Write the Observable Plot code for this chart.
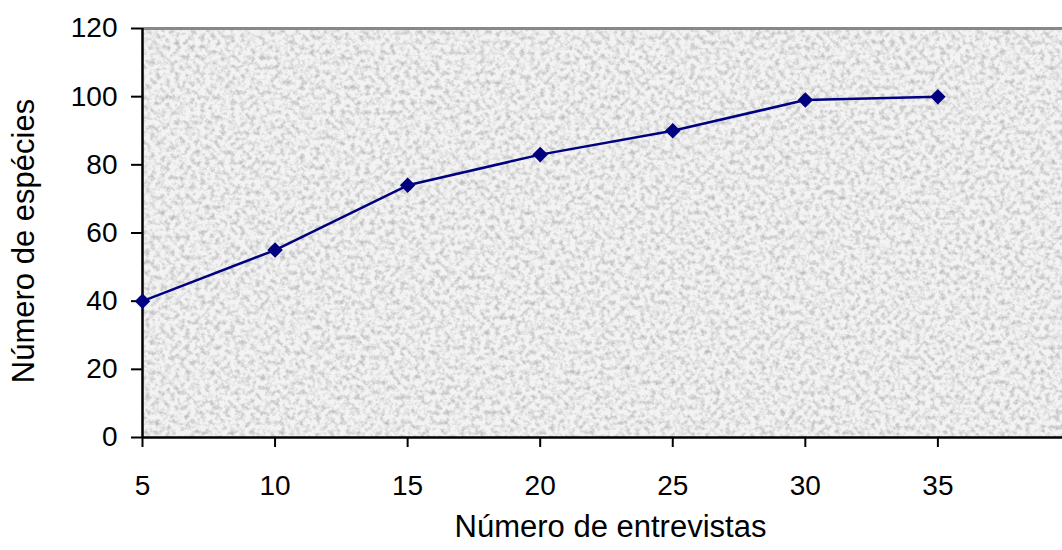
<!DOCTYPE html>
<html>
<head>
<meta charset="utf-8">
<script src="https://cdn.jsdelivr.net/npm/d3@7"></script>
<script src="https://cdn.jsdelivr.net/npm/@observablehq/plot@0.6"></script>
<style>
  html, body { margin: 0; padding: 0; background: #ffffff; }
  #chart svg { display: block; }
</style>
</head>
<body>
<div id="chart"></div>
<script>
// Data
const entrevistas = [5, 10, 15, 20, 25, 30, 35];
const especies = [40, 55, 74, 83, 90, 99, 100];
const yTicks = [0, 20, 40, 60, 80, 100, 120];
const xTicks = [5, 10, 15, 20, 25, 30, 35];
const xTitle = "Número de entrevistas";
const yTitle = "Número de espécies";

const rows = entrevistas.map((e, i) => ({entrevistas: e, especies: especies[i]}));

const svg = Plot.plot({
  width: 1062,
  height: 550,
  marginLeft: 142,
  marginRight: 0,
  marginTop: 28,
  marginBottom: 113,
  style: {fontFamily: "'Liberation Sans', Arial, sans-serif", fontSize: "28px", color: "#000", background: "#fff"},
  x: {domain: [5, 39.7]},
  y: {domain: [0, 120]},
  marks: [
    Plot.frame({fill: "#e2e2e2", stroke: null}),
    Plot.ruleY([120], {stroke: "#888888", strokeWidth: 3}),
    Plot.ruleX([5], {stroke: "#000", strokeWidth: 2.5}),
    Plot.ruleY([0], {stroke: "#000", strokeWidth: 2.5}),
    Plot.axisX(xTicks, {tickSize: 10, tickPadding: 28, strokeWidth: 2, tickFormat: d => String(d), label: null}),
    Plot.axisY(yTicks, {tickSize: 11, tickPadding: 14, strokeWidth: 2, tickFormat: d => String(d), label: null}),
    Plot.line(rows, {x: "entrevistas", y: "especies", stroke: "#000080", strokeWidth: 2.5}),
    Plot.dot(rows, {x: "entrevistas", y: "especies", symbol: "diamond2", r: 7, fill: "#000080", stroke: null}),
    Plot.text([xTitle], {text: d => d, frameAnchor: "bottom", dy: 99, dx: 8, fontSize: 31}),
    Plot.text([yTitle], {text: d => d, frameAnchor: "left", textAnchor: "middle", rotate: -90, dx: -118, dy: 8, fontSize: 31})
  ]
});

// Add paper-like grain texture over the plot background
const ns = "http://www.w3.org/2000/svg";
let frameRect = svg.querySelector('[aria-label="frame"]');
if (frameRect && frameRect.tagName.toLowerCase() !== "rect") frameRect = frameRect.querySelector("rect");
if (frameRect) {
  const defs = document.createElementNS(ns, "defs");
  defs.innerHTML = `
    <filter id="grain" x="0" y="0" width="100%" height="100%" color-interpolation-filters="sRGB">
      <feTurbulence type="fractalNoise" baseFrequency="0.2" numOctaves="3" seed="7" result="n"/>
      <feColorMatrix in="n" type="matrix" values="0.8 0 0 0 0.53  0.8 0 0 0 0.53  0.8 0 0 0 0.53  0 0 0 0 0.6"/>
    </filter>`;
  svg.insertBefore(defs, svg.firstChild);
  const overlay = frameRect.cloneNode();
  overlay.setAttribute("fill", "#000");
  overlay.setAttribute("filter", "url(#grain)");
  frameRect.parentNode.insertBefore(overlay, frameRect.nextSibling);
}

document.getElementById("chart").appendChild(svg);
</script>
</body>
</html>
